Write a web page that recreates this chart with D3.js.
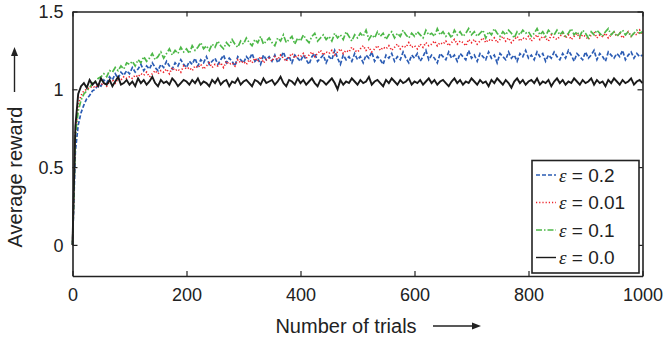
<!DOCTYPE html>
<html>
<head>
<meta charset="utf-8">
<script src="https://cdn.jsdelivr.net/npm/d3@7"></script>
<style>
  body { margin: 0; background: #fff; }
  svg { display: block; font-family: "Liberation Sans", Arial, sans-serif; }
</style>
</head>
<body>
<svg id="chart" width="665" height="338"></svg>
<script>
// trial index of every sample (every 5th trial)
const trials = d3.range(0, 1001, 5);

const eps02 = [
  0, 0.6, 0.77, 0.85, 0.9, 0.94, 0.96, 0.99, 1.0, 1.03,
  1.02, 1.06, 1.04, 1.08, 1.06, 1.10, 1.07, 1.11, 1.09, 1.12,
  1.10, 1.14, 1.11, 1.13, 1.16, 1.12, 1.15, 1.13, 1.17, 1.14,
  1.12, 1.16, 1.14, 1.18, 1.15, 1.13, 1.17, 1.15, 1.19, 1.16,
  1.14, 1.18, 1.16, 1.20, 1.15, 1.19, 1.17, 1.21, 1.16, 1.18,
  1.20, 1.16, 1.19, 1.22, 1.17, 1.20, 1.18, 1.15, 1.21, 1.19,
  1.17, 1.21, 1.19, 1.23, 1.18, 1.20, 1.16, 1.22, 1.19, 1.21,
  1.18, 1.22, 1.17, 1.20, 1.24, 1.19, 1.21, 1.17, 1.22, 1.20,
  1.18, 1.22, 1.19, 1.16, 1.21, 1.23, 1.18, 1.20, 1.22, 1.17,
  1.21, 1.19, 1.25, 1.20, 1.16, 1.22, 1.19, 1.21, 1.18, 1.23,
  1.19, 1.21, 1.17, 1.22, 1.20, 1.24, 1.18, 1.21, 1.19, 1.16,
  1.22, 1.20, 1.23, 1.18, 1.21, 1.19, 1.24, 1.20, 1.17, 1.22,
  1.20, 1.23, 1.18, 1.21, 1.25, 1.19, 1.22, 1.20, 1.17, 1.23,
  1.21, 1.19, 1.24, 1.20, 1.22, 1.18, 1.23, 1.21, 1.19, 1.25,
  1.20, 1.22, 1.18, 1.23, 1.21, 1.19, 1.24, 1.20, 1.22, 1.17,
  1.23, 1.21, 1.19, 1.24, 1.20, 1.22, 1.18, 1.23, 1.21, 1.25,
  1.20, 1.22, 1.19, 1.24, 1.21, 1.23, 1.18, 1.22, 1.20, 1.24,
  1.21, 1.19, 1.23, 1.20, 1.25, 1.22, 1.18, 1.23, 1.21, 1.19,
  1.24, 1.20, 1.22, 1.25, 1.19, 1.23, 1.21, 1.18, 1.24, 1.22,
  1.20, 1.23, 1.21, 1.25, 1.19, 1.22, 1.24, 1.20, 1.23, 1.21,
  1.22
];

const eps001 = [
  0, 0.72, 0.9, 0.96, 0.99, 1.0, 1.01, 1.02, 1.01, 1.03,
  1.03, 1.04, 1.02, 1.05, 1.06, 1.04, 1.07, 1.06, 1.08, 1.07,
  1.08, 1.07, 1.09, 1.08, 1.10, 1.09, 1.11, 1.08, 1.10, 1.12,
  1.10, 1.12, 1.11, 1.13, 1.10, 1.14, 1.12, 1.13, 1.11, 1.15,
  1.13, 1.14, 1.12, 1.15, 1.14, 1.16, 1.13, 1.15, 1.17, 1.14,
  1.16, 1.15, 1.17, 1.14, 1.18, 1.16, 1.17, 1.15, 1.19, 1.17,
  1.18, 1.16, 1.19, 1.17, 1.20, 1.18, 1.21, 1.17, 1.19, 1.20,
  1.18, 1.21, 1.19, 1.22, 1.20, 1.18, 1.21, 1.23, 1.20, 1.22,
  1.21, 1.23, 1.20, 1.22, 1.24, 1.21, 1.23, 1.25, 1.22, 1.24,
  1.23, 1.25, 1.22, 1.24, 1.26, 1.23, 1.25, 1.24, 1.27, 1.25,
  1.24, 1.26, 1.28, 1.25, 1.27, 1.24, 1.26, 1.28, 1.25, 1.27,
  1.26, 1.28, 1.25, 1.27, 1.29, 1.26, 1.28, 1.27, 1.30, 1.27,
  1.28, 1.26, 1.29, 1.27, 1.30, 1.28, 1.29, 1.31, 1.28, 1.30,
  1.29, 1.31, 1.28, 1.30, 1.32, 1.29, 1.31, 1.30, 1.28, 1.32,
  1.30, 1.32, 1.29, 1.31, 1.33, 1.30, 1.32, 1.31, 1.33, 1.30,
  1.32, 1.34, 1.31, 1.33, 1.30, 1.32, 1.34, 1.31, 1.33, 1.32,
  1.34, 1.31, 1.33, 1.35, 1.32, 1.34, 1.33, 1.31, 1.35, 1.33,
  1.32, 1.34, 1.36, 1.33, 1.35, 1.32, 1.34, 1.36, 1.33, 1.35,
  1.34, 1.32, 1.35, 1.37, 1.33, 1.35, 1.34, 1.36, 1.33, 1.35,
  1.37, 1.34, 1.36, 1.33, 1.35, 1.37, 1.34, 1.36, 1.35, 1.38,
  1.35
];

const eps01 = [
  0, 0.7, 0.86, 0.93, 0.97, 0.99, 1.01, 1.04, 1.05, 1.07,
  1.08, 1.10, 1.08, 1.12, 1.11, 1.14, 1.12, 1.15, 1.13, 1.17,
  1.16, 1.18, 1.15, 1.19, 1.17, 1.21, 1.18, 1.20, 1.23, 1.19,
  1.21, 1.24, 1.20, 1.23, 1.26, 1.22, 1.25, 1.23, 1.27, 1.24,
  1.26, 1.23, 1.28, 1.25, 1.27, 1.30, 1.26, 1.28, 1.25, 1.29,
  1.27, 1.31, 1.28, 1.26, 1.30, 1.28, 1.32, 1.29, 1.27, 1.31,
  1.29, 1.33, 1.30, 1.28, 1.32, 1.30, 1.34, 1.29, 1.31, 1.33,
  1.30, 1.28, 1.33, 1.31, 1.35, 1.30, 1.32, 1.34, 1.29, 1.33,
  1.31, 1.35, 1.32, 1.30, 1.34, 1.36, 1.31, 1.33, 1.35, 1.32,
  1.34, 1.31, 1.36, 1.33, 1.35, 1.32, 1.37, 1.34, 1.31, 1.35,
  1.33, 1.36, 1.34, 1.38, 1.32, 1.35, 1.33, 1.37, 1.34, 1.36,
  1.32, 1.35, 1.37, 1.33, 1.36, 1.34, 1.38, 1.35, 1.33, 1.36,
  1.34, 1.37, 1.35, 1.33, 1.38, 1.35, 1.36, 1.34, 1.39, 1.35,
  1.37, 1.34, 1.36, 1.33, 1.38, 1.35, 1.37, 1.34, 1.36, 1.39,
  1.35, 1.37, 1.34, 1.36, 1.38, 1.33, 1.37, 1.35, 1.39, 1.36,
  1.34, 1.37, 1.35, 1.38, 1.36, 1.33, 1.37, 1.35, 1.38, 1.36,
  1.37, 1.34, 1.36, 1.39, 1.35, 1.37, 1.34, 1.38, 1.36, 1.35,
  1.38, 1.35, 1.37, 1.34, 1.36, 1.39, 1.35, 1.37, 1.34, 1.38,
  1.36, 1.33, 1.37, 1.35, 1.38, 1.36, 1.34, 1.37, 1.39, 1.35,
  1.37, 1.34, 1.36, 1.38, 1.35, 1.37, 1.34, 1.36, 1.38, 1.36,
  1.37
];

const eps00 = [
  0, 0.76, 0.97, 1.02, 1.04, 1.01, 1.06, 1.03, 1.05, 1.02,
  1.07, 1.04, 1.03, 1.06, 1.02, 1.05, 1.08, 1.03, 1.04, 1.06,
  1.03, 1.05, 1.02, 1.07, 1.04, 1.06, 1.03, 1.05, 1.08, 1.04,
  1.02, 1.06, 1.04, 1.05, 1.03, 1.07, 1.05, 1.02, 1.04, 1.06,
  1.05, 1.03, 1.06, 1.04, 1.07, 1.03, 1.05, 1.04, 1.02, 1.06,
  1.04, 1.07, 1.03, 1.05, 1.06, 1.02, 1.05, 1.04, 1.07, 1.03,
  1.05, 1.06, 1.04, 1.02, 1.06, 1.05, 1.03, 1.07, 1.04, 1.05,
  1.06, 1.03, 1.05, 1.08, 1.04, 1.02, 1.06, 1.05, 1.03, 1.07,
  1.04, 1.06, 1.03, 1.05, 1.07, 1.04, 1.02, 1.06, 1.05, 1.03,
  1.05, 1.07, 1.04, 1.00, 1.06, 1.03, 1.05, 1.04, 1.07, 1.05,
  1.03, 1.06, 1.04, 1.05, 1.08, 1.03, 1.05, 1.06, 1.04, 1.02,
  1.06, 1.04, 1.07, 1.05, 1.03, 1.06, 1.04, 1.05, 1.07, 1.03,
  1.05, 1.04, 1.06, 1.03, 1.05, 1.07, 1.04, 1.06, 1.03, 1.05,
  1.06, 1.04, 1.02, 1.05, 1.07, 1.04, 1.06, 1.03, 1.05, 1.04,
  1.07, 1.05, 1.03, 1.06, 1.04, 1.05, 1.02, 1.06, 1.04, 1.07,
  1.05, 1.03, 1.06, 1.04, 1.01, 1.05, 1.07, 1.04, 1.06, 1.03,
  1.05, 1.06, 1.04, 1.07, 1.03, 1.05, 1.04, 1.06, 1.02, 1.05,
  1.07, 1.04, 1.06, 1.03, 1.05, 1.04, 1.07, 1.05, 1.03, 1.06,
  1.04, 1.05, 1.07, 1.03, 1.06, 1.04, 1.05, 1.02, 1.06, 1.04,
  1.07, 1.05, 1.03, 1.06, 1.04, 1.05, 1.07, 1.03, 1.05, 1.06,
  1.04
];

const seriesNames = ["0.2", "0.01", "0.1", "0.0"];
const seriesValues = [eps02, eps001, eps01, eps00];
const seriesColors = ["#2b5cb4", "#ee2229", "#4db848", "#1a1a1a"];
const seriesDash = ["4,2", "1.2,2", "6,2,1.5,2", null];

const xTicks = [0, 200, 400, 600, 800, 1000];
const yTicks = [0, 0.5, 1, 1.5];

const margin = { top: 11.5, right: 22.5, bottom: 62, left: 72.5 };
const width = 665, height = 338;
const svg = d3.select("#chart");

const x = d3.scaleLinear().domain([0, 1000]).range([margin.left, width - margin.right]);
const y = d3.scaleLinear().domain([-0.2, 1.5]).range([height - margin.bottom, margin.top]);

const axisColor = "#222";

// series
const line = d3.line()
  .x((d, i) => x(trials[i]))
  .y(d => y(d));

seriesValues.forEach((vals, k) => {
  svg.append("path")
    .attr("d", line(vals))
    .attr("fill", "none")
    .attr("stroke", seriesColors[k])
    .attr("stroke-width", k === 3 ? 1.9 : 1.7)
    .attr("stroke-dasharray", seriesDash[k]);
});

// frame and ticks
const tickLen = 5;
const xAxisB = d3.axisBottom(x).tickValues(xTicks).tickSizeInner(-tickLen).tickSizeOuter(0).tickPadding(12).tickFormat(d3.format("d"));
const xAxisT = d3.axisTop(x).tickValues(xTicks).tickSizeInner(-tickLen).tickSizeOuter(0).tickFormat("");
const yAxisL = d3.axisLeft(y).tickValues(yTicks).tickSizeInner(-tickLen).tickSizeOuter(0).tickPadding(9).tickFormat(d3.format("~g"));
const yAxisR = d3.axisRight(y).tickValues(yTicks).tickSizeInner(-tickLen).tickSizeOuter(0).tickFormat("");

const gB = svg.append("g").attr("transform", `translate(0,${y.range()[0]})`).call(xAxisB);
const gT = svg.append("g").attr("transform", `translate(0,${y.range()[1]})`).call(xAxisT);
const gL = svg.append("g").attr("transform", `translate(${x.range()[0]},0)`).call(yAxisL);
const gR = svg.append("g").attr("transform", `translate(${x.range()[1]},0)`).call(yAxisR);

[gB, gT, gL, gR].forEach(g => {
  g.select(".domain").attr("stroke", axisColor).attr("stroke-width", 1.6);
  g.selectAll(".tick line").attr("stroke", axisColor).attr("stroke-width", 1.2);
  g.selectAll(".tick text")
    .attr("fill", "#222")
    .attr("font-size", 18)
    .attr("font-family", "Liberation Sans, Arial, sans-serif");
});
gL.selectAll(".tick text").attr("dy", "0.36em");

// axis labels with arrows
svg.append("text")
  .attr("x", 346)
  .attr("y", 333)
  .attr("text-anchor", "middle")
  .attr("font-size", 20)
  .attr("fill", "#222")
  .text("Number of trials");

const arrowHead = (g, x0, y0, dir) => {
  // dir: "right" or "up"
  if (dir === "right") {
    g.append("path").attr("d", `M${x0},${y0} l-9,-3.5 l0,7 z`).attr("fill", "#222");
  } else {
    g.append("path").attr("d", `M${x0},${y0} l-3.5,9 l7,0 z`).attr("fill", "#222");
  }
};

const arrows = svg.append("g");
arrows.append("line").attr("x1", 433).attr("x2", 474).attr("y1", 326).attr("y2", 326)
  .attr("stroke", "#222").attr("stroke-width", 1.4);
arrowHead(arrows, 481, 326, "right");
arrows.append("line").attr("x1", 14.5).attr("x2", 14.5).attr("y1", 92).attr("y2", 54)
  .attr("stroke", "#222").attr("stroke-width", 1.4);
arrowHead(arrows, 14.5, 47, "up");

svg.append("text")
  .attr("transform", "translate(21.5,177) rotate(-90)")
  .attr("text-anchor", "middle")
  .attr("font-size", 20)
  .attr("fill", "#222")
  .text("Average reward");

// legend
const legend = svg.append("g");
legend.append("rect")
  .attr("x", 532).attr("y", 160.5)
  .attr("width", 107).attr("height", 112.5)
  .attr("fill", "#fff")
  .attr("stroke", "#222")
  .attr("stroke-width", 1.6);

const rowY = [175, 202.5, 230, 257.5];
seriesNames.forEach((name, k) => {
  legend.append("line")
    .attr("x1", 536).attr("x2", 556)
    .attr("y1", rowY[k]).attr("y2", rowY[k])
    .attr("stroke", seriesColors[k])
    .attr("stroke-width", 1.4)
    .attr("stroke-dasharray", seriesDash[k]);
  const t = legend.append("text")
    .attr("x", 559)
    .attr("y", rowY[k] + 6.5)
    .attr("font-size", 19)
    .attr("fill", "#222");
  t.append("tspan")
    .attr("font-family", "Liberation Serif, DejaVu Serif, serif")
    .attr("font-style", "italic")
    .text("ε");
  t.append("tspan").text(" = " + name);
});
</script>
</body>
</html>
